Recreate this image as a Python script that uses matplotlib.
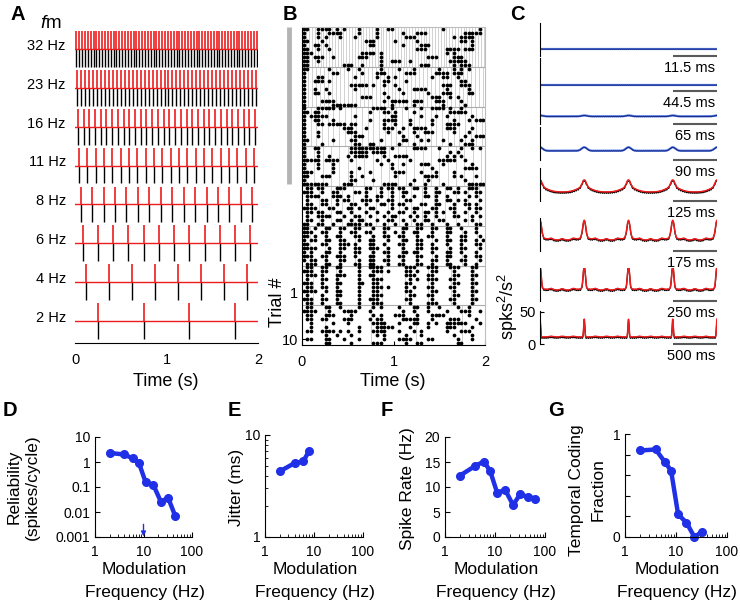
import numpy as np
import matplotlib
matplotlib.use('Agg')
import matplotlib.pyplot as plt
from matplotlib.transforms import blended_transform_factory
from matplotlib.ticker import LogLocator, NullFormatter, FixedLocator

plt.rcParams['font.family'] = ['Liberation Sans', 'DejaVu Sans']
plt.rcParams['mathtext.fontset'] = 'custom'
plt.rcParams['mathtext.it'] = 'Liberation Sans:italic'
plt.rcParams['mathtext.rm'] = 'Liberation Sans'

# ---------------- data ----------------
stim_freqs = [32, 23, 16, 11, 8, 6, 4, 2]          # rows top -> bottom (A and B)
stim_labels = ['32 Hz', '23 Hz', '16 Hz', '11 Hz', '8 Hz', '6 Hz', '4 Hz', '2 Hz']

# raster (B): spike bins (40 ms wide) per trial, 10 trials per block
bin_width = 0.04
raster_32hz = [
    [0, 1, 4, 5, 6, 7, 9, 11, 15, 20, 23, 24, 38, 48],
    [0, 4, 7, 8, 9, 10, 15, 20, 27, 31, 32, 33, 44, 45, 46, 47, 48],
    [0, 4, 6, 10, 14, 20, 28, 29, 30, 41, 43, 44, 45, 46],
    [0, 1, 5, 17, 18, 19, 25, 31, 43, 44, 46],
    [0, 3, 4, 6, 18, 19, 27, 32, 33, 34, 46],
    [0, 1, 4, 7, 31, 32, 33, 39, 40, 41, 42, 44, 45, 46],
    [0, 1, 2, 16, 17, 18, 19, 21, 39, 41],
    [0, 1, 3, 4, 5, 8, 15, 16, 17, 21, 34, 35, 36, 41, 42, 43],
    [0, 1, 4, 21, 24, 25, 26, 29, 40, 41, 42, 43, 44],
    [0, 1, 11, 12, 13, 16, 21, 32, 33, 34, 41, 43, 44, 45],
]
raster_23hz = [
    [0, 1, 7, 12, 15, 21, 26, 30, 37, 41, 43, 45],
    [0, 8, 9, 16, 20, 21, 22, 28, 29, 30, 36, 37, 38, 39, 41, 42, 43],
    [0, 4, 5, 14, 20, 23, 25, 35, 38, 39, 42],
    [0, 3, 4, 5, 7, 22, 23, 28, 43, 44],
    [0, 13, 14, 15, 16, 17, 19, 22, 25, 38, 39, 40, 43, 44, 45],
    [0, 3, 6, 14, 26, 30, 31, 32, 33, 39, 45],
    [0, 3, 4, 7, 22, 27, 34, 38, 39, 40, 45, 46],
    [0, 16, 17, 18, 23, 35, 36, 37, 40, 42],
    [0, 5, 6, 7, 8, 22, 24, 25, 26, 27, 28, 30, 31, 32, 36, 37, 38, 43],
    [0, 8, 9, 10, 11, 12, 13, 14, 24, 30, 38, 44],
]
raster_16hz = [
    [0, 4, 5, 6, 7, 8, 10, 19, 20, 21, 22, 24, 28, 32, 35, 36, 37, 38, 40, 43],
    [0, 1, 3, 4, 18, 22, 23, 25, 30, 40, 41, 42, 43, 44],
    [0, 2, 3, 4, 5, 6, 14, 24, 25, 32, 36, 39, 46],
    [0, 3, 4, 8, 18, 22, 23, 24, 25, 29, 35, 41, 45, 47, 48, 49],
    [0, 4, 5, 7, 8, 9, 10, 11, 13, 14, 22, 25, 29, 35, 39, 40, 41, 42],
    [0, 11, 12, 13, 17, 22, 23, 24, 27, 30, 31, 32, 33, 39, 40, 41, 46],
    [0, 4, 12, 13, 14, 23, 26, 30, 33, 34, 35, 41, 45],
    [0, 4, 14, 15, 16, 27, 31, 44, 47, 48, 49],
    [0, 1, 8, 13, 14, 21, 27, 28, 32, 34, 38, 43, 46],
    [0, 5, 14, 15, 18, 19, 26, 30, 40, 44, 45, 46],
]
raster_11hz = [
    [0, 3, 4, 13, 14, 15, 16, 17, 18, 19, 20, 21, 22, 24, 30, 31, 32, 33, 37, 43, 46, 48],
    [0, 4, 13, 14, 15, 16, 17, 19, 20, 21, 22, 40, 42],
    [0, 4, 7, 12, 14, 15, 16, 17, 22, 25, 26, 27, 28, 39, 41, 43],
    [0, 1, 2, 3, 4, 6, 7, 8, 9, 13, 20, 23, 29, 37, 38, 39, 40, 41, 44],
    [0, 4, 8, 21, 24, 27, 32, 33, 34, 38, 46],
    [0, 4, 8, 15, 24, 35, 44, 45, 46, 47],
    [0, 1, 2, 8, 13, 18, 25, 26, 27, 32, 36, 41],
    [0, 1, 5, 6, 7, 13, 16, 25, 33, 34, 35, 36, 41, 43, 47],
    [0, 13, 14, 19, 30, 34, 44],
    [0, 1, 2, 3, 4, 5, 6, 11, 12, 13, 22, 23, 24, 25, 29, 33, 38, 45, 46, 47, 48, 49],
]
raster_8hz = [
    [1, 2, 4, 5, 9, 10, 11, 17, 18, 21, 23, 24, 26, 27, 30, 31, 33, 36, 39, 40, 42, 45, 46, 47],
    [0, 1, 2, 5, 8, 9, 14, 15, 17, 21, 24, 27, 28, 33, 36, 37, 41, 42, 44, 47, 48],
    [1, 2, 3, 4, 8, 9, 10, 12, 17, 20, 21, 24, 27, 30, 33, 34, 36, 39, 45, 47],
    [1, 5, 6, 9, 11, 12, 16, 17, 18, 20, 23, 24, 28, 29, 36, 39, 40, 42, 44, 48],
    [1, 2, 5, 6, 9, 13, 14, 17, 21, 22, 24, 26, 27, 32, 33, 36, 37, 41, 44, 45, 47],
    [0, 1, 2, 3, 7, 8, 12, 13, 15, 18, 19, 24, 28, 30, 31, 35, 36, 40, 41, 45, 47, 48],
    [1, 2, 4, 5, 9, 10, 13, 17, 20, 23, 26, 27, 30, 33, 34, 36, 38, 41, 44, 47],
    [1, 4, 5, 6, 7, 11, 14, 15, 18, 22, 24, 25, 29, 31, 33, 36, 41, 42, 46, 48],
    [1, 2, 5, 9, 10, 13, 15, 16, 20, 23, 24, 27, 30, 33, 34, 37, 38, 44, 46],
    [0, 1, 4, 5, 8, 12, 13, 14, 15, 17, 18, 22, 25, 28, 31, 32, 35, 39, 42, 47, 48],
]
raster_6hz = [
    [0, 1, 3, 6, 7, 10, 11, 14, 15, 19, 22, 23, 27, 28, 31, 32, 35, 36, 39, 40, 43, 47],
    [0, 1, 2, 5, 6, 10, 13, 14, 17, 18, 22, 25, 27, 30, 31, 35, 39, 40, 44, 47],
    [0, 1, 3, 6, 9, 10, 14, 15, 19, 22, 23, 26, 27, 31, 34, 35, 39, 43, 44, 48],
    [0, 2, 3, 6, 7, 10, 11, 15, 18, 19, 23, 27, 28, 31, 32, 36, 39, 40, 43, 44, 47, 49],
    [0, 1, 5, 6, 10, 11, 12, 14, 18, 19, 22, 26, 27, 31, 32, 35, 39, 43, 47, 48],
    [0, 1, 2, 3, 7, 10, 11, 14, 15, 18, 19, 20, 23, 27, 31, 32, 35, 36, 40, 43, 44, 48],
    [0, 2, 6, 7, 10, 14, 15, 19, 22, 23, 27, 28, 30, 31, 35, 39, 40, 43, 47],
    [0, 1, 2, 5, 6, 9, 10, 11, 14, 18, 19, 23, 26, 27, 31, 32, 36, 39, 40, 44, 47, 48],
    [0, 2, 3, 6, 10, 11, 15, 18, 19, 22, 23, 27, 31, 35, 36, 39, 43, 44, 48],
    [1, 2, 3, 6, 7, 10, 14, 15, 18, 19, 23, 26, 27, 31, 32, 35, 39, 40, 44, 47],
]
raster_4hz = [
    [1, 2, 5, 6, 9, 10, 15, 18, 19, 20, 21, 28, 29, 30, 34, 35, 36, 40, 41, 42, 46, 47],
    [0, 1, 2, 5, 6, 10, 15, 19, 20, 21, 23, 28, 29, 31, 35, 36, 41, 46],
    [1, 2, 3, 5, 9, 10, 11, 15, 18, 19, 28, 29, 30, 34, 35, 41, 42, 46, 47],
    [1, 5, 6, 9, 15, 19, 20, 21, 29, 31, 34, 35, 36, 40, 41, 46],
    [0, 1, 2, 5, 9, 10, 15, 16, 19, 20, 28, 29, 35, 41, 42, 46, 47],
    [1, 2, 5, 6, 9, 15, 19, 20, 21, 23, 28, 30, 34, 35, 40, 41, 46],
    [0, 1, 2, 3, 6, 9, 10, 15, 19, 20, 28, 29, 35, 36, 41, 46, 47],
    [1, 5, 9, 10, 15, 19, 20, 21, 29, 30, 34, 35, 41, 42, 46],
    [0, 1, 2, 5, 6, 9, 15, 18, 19, 20, 28, 29, 35, 40, 41, 46, 47],
    [1, 2, 5, 9, 10, 15, 19, 20, 21, 29, 34, 35, 36, 41, 46],
]
raster_2hz = [
    [1, 2, 6, 7, 10, 15, 19, 21, 26, 30, 31, 34, 37, 42, 45],
    [0, 1, 2, 3, 7, 11, 12, 13, 14, 18, 27, 30, 34, 39, 43, 44, 45, 48],
    [1, 2, 6, 7, 8, 13, 19, 21, 25, 26, 27, 31, 35, 36, 37, 38, 45],
    [1, 2, 5, 6, 11, 12, 13, 18, 20, 21, 27, 28, 29, 30, 31, 35, 40, 41, 42, 47],
    [2, 8, 12, 19, 20, 21, 22, 26, 30, 31, 34, 36, 39, 40, 41, 42, 43, 44, 48],
    [2, 6, 15, 20, 21, 22, 23, 24, 29, 34, 39, 40, 41, 46],
    [1, 2, 5, 6, 7, 8, 10, 12, 15, 19, 20, 21, 22, 26, 30, 32, 39, 43, 44, 45],
    [6, 9, 13, 20, 22, 28, 32, 41, 46],
    [1, 2, 6, 7, 11, 15, 22, 26, 27, 28, 29, 34, 35, 42, 46],
    [6, 7, 13, 19, 20, 21, 28, 31, 32, 42, 43],
]
raster_blocks = [raster_32hz, raster_23hz, raster_16hz, raster_11hz,
                 raster_8hz, raster_6hz, raster_4hz, raster_2hz]

# autocorrelograms (C), values in spks^2/s^2, lag axis in stimulus periods (0..4)
acg_labels = ['11.5 ms', '44.5 ms', '65 ms', '90 ms', '125 ms', '175 ms', '250 ms', '500 ms']
acg_baseline = [11, 9.5, 12, 14.5, 14, 17, 17, 11]
acg_peak = [11, 9.5, 13.5, 20, 33, 48, 55, 39]
acg_peak_width = [0.05, 0.05, 0.06, 0.06, 0.045, 0.035, 0.025, 0.012]
acg_skirt = [0, 0, 0, 0, 0.4, 0.1, 0.05, 0.0]
acg_subbump = [0, 0, 0, 0, 0, 2.0, 2.0, 1.0]
acg_is_red = [False, False, False, False, True, True, True, True]

# population summaries (D-G)
rel_freq = [2, 4, 6, 8, 11, 16, 23, 32, 45]
reliability = [2.3, 2.0, 1.4, 0.95, 0.16, 0.12, 0.025, 0.038, 0.007]
jit_freq = [2, 4, 6, 8]
jitter = [4.4, 5.3, 5.5, 7.0]
rate_freq = [2, 4, 6, 8, 11, 16, 23, 32, 45, 64]
spike_rate = [12.3, 14.2, 15.1, 13.2, 8.9, 9.4, 6.4, 8.6, 8.0, 7.7]
tcf_freq = [2, 4, 6, 8, 11, 16, 23, 32]
temporal_fraction = [0.84, 0.85, 0.73, 0.645, 0.22, 0.14, 0.0, 0.05]

# ---------------- figure ----------------
W, H = 740, 601
fig = plt.figure(figsize=(W / 100, H / 100), dpi=100)
LABEL_FS = 12.5
TICK_FS = 10


def px_axes(left, top, right, bottom):
    return fig.add_axes([left / W, 1 - bottom / H, (right - left) / W, (bottom - top) / H])


def fig_text(x, y, s, **kw):
    return fig.text(x / W, 1 - y / H, s, **kw)


for letter, (x, y) in zip('ABCDEFG', [(18, 15), (290, 15), (517, 15), (10, 410),
                                      (234, 410), (387, 410), (556, 410)]):
    fig_text(x, y, letter, fontsize=14.5, fontweight='bold', ha='center', va='center')

# ---- A: stimulus / response trains ----
axA = px_axes(75, 25.5, 258, 343)
trA = blended_transform_factory(axA.transAxes, axA.transData)
nrow = len(stim_freqs)
for i, (f, lab) in enumerate(zip(stim_freqs, stim_labels)):
    y0 = nrow - 1 - i
    t = (np.arange(int(round(2 * f))) + 0.5) / f
    axA.vlines(t, y0, y0 - 0.46, color='black', lw=1.0)
    axA.vlines(t, y0, y0 + 0.46, color='#ee1c1c', lw=1.2)
    axA.plot([0, 2], [y0, y0], color='#ee1c1c', lw=1.0)
    axA.text(-0.05, y0 + 0.08, lab, transform=trA, ha='right', va='center', fontsize=10.5)
axA.set_xlim(0, 2)
axA.set_ylim(-0.56, 7.6)
for s in ['left', 'top', 'right']:
    axA.spines[s].set_visible(False)
axA.set_yticks([])
axA.set_xticks([0, 1, 2])
axA.tick_params(axis='x', length=0, pad=7, labelsize=TICK_FS + 0.5)
fig_text(51, 23, r'$f$m', fontsize=13.5, ha='center', va='center')
fig_text(166, 381, 'Time (s)', fontsize=LABEL_FS + 0.5, ha='center', va='center')

# ---- B: raster ----
axB = px_axes(302, 27, 485, 345)
for b, (f, rows) in enumerate(zip(stim_freqs, raster_blocks)):
    top = b * 10
    t = (np.arange(int(round(2 * f))) + 0.5) / f
    axB.vlines(t, top, top + 10, color='#d2d2d2', lw=0.7, zorder=0)
    for r, bins in enumerate(rows):
        tt = (np.array(bins) + 0.5) * bin_width
        axB.plot(tt, np.full(len(tt), top + r + 0.5), 'o', color='black',
                 ms=2.7, mec='none', zorder=2, clip_on=False)
axB.hlines(np.arange(10, 80, 10), 0, 2, color='#ababab', lw=0.8, zorder=1)
axB.set_xlim(0, 2)
axB.set_ylim(80, 0)
for s in ['top', 'right']:
    axB.spines[s].set_color('#bdbdbd')
    axB.spines[s].set_linewidth(0.8)
axB.set_xticks([0, 1, 2])
axB.yaxis.set_major_locator(FixedLocator([66.7, 78.5]))
axB.set_yticklabels(['1', '10'])
axB.tick_params(direction='in', length=3, labelsize=TICK_FS + 0.5)
axB.tick_params(axis='x', pad=7)
axB.tick_params(axis='y', pad=3)
trB = blended_transform_factory(axB.transAxes, axB.transData)
axB.plot([-0.07, -0.07], [0, 39.6], transform=trB, color='#b4b4b4', lw=3.5,
         clip_on=False, solid_capstyle='butt')
fig_text(278, 302, 'Trial #', fontsize=LABEL_FS + 0.5, ha='center', va='center', rotation=90)
fig_text(393, 381, 'Time (s)', fontsize=LABEL_FS + 0.5, ha='center', va='center')

# ---- C: autocorrelograms ----
bar_y = [56, 91, 124, 160, 201, 251, 301, 344]
lag = np.linspace(0, 4, 900)
for k in range(8):
    ax = px_axes(540, bar_y[k] - 33.3, 717, bar_y[k])
    ax.patch.set_visible(False)
    base, peak = acg_baseline[k], acg_peak[k]
    w = acg_peak_width[k]
    curve = np.full(lag.shape, float(base))
    for c in range(5):
        d = lag - c
        curve += (peak - base) * (1 - acg_skirt[k]) * np.exp(-0.5 * (d / w) ** 2)
        curve += (peak - base) * acg_skirt[k] * np.exp(-0.5 * (d / 0.16) ** 2)
        for q in (0.25, 0.5, 0.75):
            if c < 4:
                curve += acg_subbump[k] * np.exp(-0.5 * ((d - q) / 0.04) ** 2)
    ripple = 0.5 * (1 + np.cos(2 * np.pi * lag * 22))
    if acg_is_red[k]:
        ax.plot(lag, curve - 2.2 * ripple, color='black', lw=0.9)
        ax.plot(lag, curve, color='#ee1c1c', lw=1.1)
    else:
        ax.plot(lag, curve, color='#5a86e6', lw=1.6)
        ax.plot(lag, curve - 0.6 * ripple, color='#1b2a8c', lw=0.8)
    ax.plot([3, 4], [0, 0], color='#5a5a5a', lw=1.5, clip_on=False, solid_capstyle='butt')
    ax.annotate(acg_labels[k], xy=(4, 0), xytext=(-1.5, -3.5), textcoords='offset points',
                ha='right', va='top', fontsize=TICK_FS + 0.5)
    ax.set_xlim(0, 4)
    ax.set_ylim(0, 52)
    for s in ['top', 'right', 'bottom']:
        ax.spines[s].set_visible(False)
    ax.set_xticks([])
    if k == 7:
        ax.set_yticks([0, 50])
        ax.tick_params(direction='in', length=3, labelsize=TICK_FS + 0.5, pad=3)
    else:
        ax.set_yticks([])
fig_text(508, 306, 'spks$^2$/s$^2$', fontsize=LABEL_FS + 0.5, ha='center', va='center', rotation=90)

# ---- D-G: summaries ----
blue = '#1f30e6'


def freq_axes(left, top, right, bottom):
    ax = px_axes(left, top, right, bottom)
    ax.set_xscale('log')
    ax.set_xlim(1, 100)
    ax.xaxis.set_major_locator(FixedLocator([1, 10, 100]))
    ax.set_xticklabels(['1', '10', '100'])
    ax.xaxis.set_minor_locator(LogLocator(base=10, subs=np.arange(2, 10)))
    ax.xaxis.set_minor_formatter(NullFormatter())
    for s in ['top', 'right']:
        ax.spines[s].set_visible(False)
    ax.tick_params(direction='in', which='major', length=3.5, labelsize=TICK_FS)
    ax.tick_params(direction='in', which='minor', length=2)
    ax.tick_params(axis='x', which='major', pad=6)
    ax.tick_params(axis='y', pad=3.5)
    cx = (left + right) / 2 + 1
    fig_text(cx, 570, 'Modulation', fontsize=LABEL_FS, ha='center', va='center')
    fig_text(cx, 592, 'Frequency (Hz)', fontsize=LABEL_FS, ha='center', va='center')
    return ax


# D
axD = freq_axes(95, 437, 192, 537)
axD.plot(rel_freq, reliability, '-o', color=blue, lw=3.2, ms=5.5, mec=blue)
axD.set_yscale('log')
axD.set_ylim(0.001, 10)
axD.yaxis.set_major_locator(FixedLocator([0.001, 0.01, 0.1, 1, 10]))
axD.set_yticklabels(['0.001', '0.01', '0.1', '1', '10'])
axD.yaxis.set_minor_locator(FixedLocator([]))
axD.annotate('', xy=(10, 0.00105), xytext=(10, 0.0032),
             arrowprops=dict(arrowstyle='-|>', color=blue, lw=1.0,
                             mutation_scale=7, shrinkA=0, shrinkB=0))
fig_text(14, 487, 'Reliability', fontsize=LABEL_FS, ha='center', va='center', rotation=90)
fig_text(32, 487, '(spikes/cycle)', fontsize=LABEL_FS, ha='center', va='center', rotation=90)

# E
axE = freq_axes(265, 435, 363, 537)
axE.plot(jit_freq, jitter, '-o', color=blue, lw=3.2, ms=5.5, mec=blue)
axE.set_yscale('log')
axE.set_ylim(1, 10)
axE.yaxis.set_major_locator(FixedLocator([1, 10]))
axE.set_yticklabels(['1', '10'])
axE.yaxis.set_minor_locator(LogLocator(base=10, subs=np.arange(2, 10)))
axE.yaxis.set_minor_formatter(NullFormatter())
fig_text(236, 487, 'Jitter (ms)', fontsize=LABEL_FS, ha='center', va='center', rotation=90)

# F
axF = freq_axes(445, 437, 545, 537)
axF.plot(rate_freq, spike_rate, '-o', color=blue, lw=3.2, ms=5.5, mec=blue)
axF.set_ylim(0, 20)
axF.set_yticks([0, 5, 10, 15, 20])
fig_text(407, 489, 'Spike Rate (Hz)', fontsize=LABEL_FS, ha='center', va='center', rotation=90)

# G
axG = freq_axes(625, 434, 727, 537)
axG.plot(tcf_freq, temporal_fraction, '-o', color=blue, lw=3.2, ms=5.5, mec=blue,
         clip_on=False)
axG.set_ylim(0, 1)
axG.yaxis.set_major_locator(FixedLocator([0, 0.2, 0.4, 0.6, 0.8, 1]))
axG.set_yticklabels(['0', '', '', '', '', '1'])
fig_text(577, 490, 'Temporal Coding', fontsize=LABEL_FS, ha='center', va='center', rotation=90)
fig_text(598, 490, 'Fraction', fontsize=LABEL_FS, ha='center', va='center', rotation=90)

fig.savefig('out.png', dpi=100)
